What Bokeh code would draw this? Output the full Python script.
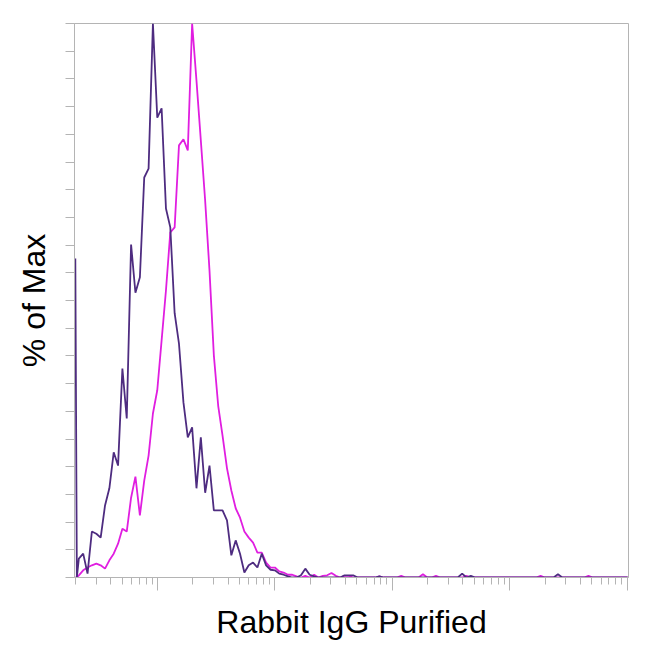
from bokeh.plotting import figure
from bokeh.models import Range1d, FixedTicker, LogTicker, CustomJSTickFormatter
from bokeh.embed import file_html
from bokeh.resources import INLINE

# bin positions (log10 of the fluorescence value)
log_x = [
    0.300, 0.313, 0.330, 0.367, 0.404, 0.441, 0.479, 0.516, 0.553, 0.590,
    0.627, 0.664, 0.701, 0.738, 0.775, 0.812, 0.850, 0.887, 0.924, 0.961,
    0.998, 1.035, 1.072, 1.109, 1.146, 1.183, 1.221, 1.258, 1.295, 1.332,
    1.369, 1.406, 1.443, 1.480, 1.517, 1.554, 1.592, 1.629, 1.666, 1.703,
    1.740, 1.777, 1.814, 1.851, 1.888, 1.925, 1.963, 2.000, 2.037, 2.074,
    2.111, 2.148, 2.185, 2.222, 2.259, 2.296, 2.334, 2.371, 2.408, 2.445,
    2.482, 2.519, 2.556, 2.593, 2.630, 2.667, 2.705, 2.742, 2.779, 2.816,
    2.853, 2.890, 2.927, 2.964, 3.001, 3.038, 3.076, 3.113, 3.150, 3.187,
    3.224, 3.261, 3.298, 3.335, 3.372, 3.409, 3.447, 3.484, 3.521, 3.558,
    3.595, 3.632, 3.669, 3.706, 3.743, 3.780, 3.818, 3.855, 3.892, 3.929,
    3.966, 4.003, 4.040, 4.077, 4.114, 4.151, 4.189, 4.226, 4.263, 4.300,
    4.337, 4.374, 4.411, 4.448, 4.485, 4.522, 4.560, 4.597, 4.634, 4.671,
    4.708, 4.745, 4.782, 4.819, 4.856, 4.893, 4.931, 4.968, 5.005,
]

# % of Max, dark purple sample
purple_pct = [
    57.6, 0.0, 3.4, 4.3, 0.7, 8.3, 7.9, 7.2, 13.0, 16.1,
    22.6, 20.2, 37.7, 28.7, 60.1, 51.4, 54.2, 72.2, 73.8, 100.0,
    83.0, 84.7, 66.6, 63.2, 47.7, 42.2, 31.6, 25.3, 27.1, 16.1,
    25.3, 15.3, 20.2, 12.1, 12.1, 12.1, 10.3, 4.0, 6.7, 4.3,
    0.9, 2.2, 2.7, 1.8, 4.3, 2.2, 1.4, 1.3, 0.7, 0.5,
    0.2, 0.0, 0.0, 0.4, 1.6, 0.5, 0.2, 0.0, 0.0, 0.0,
    0.0, 0.0, 0.0, 0.4, 0.4, 0.4, 0.0, 0.0, 0.0, 0.0,
    0.0, 0.2, 0.0, 0.0, 0.0, 0.0, 0.0, 0.0, 0.0, 0.0,
    0.0, 0.0, 0.0, 0.0, 0.0, 0.0, 0.0, 0.0, 0.0, 0.0,
    0.7, 0.0, 0.3, 0.0, 0.0, 0.0, 0.0, 0.0, 0.0, 0.0,
    0.0, 0.0, 0.0, 0.0, 0.0, 0.0, 0.0, 0.0, 0.0, 0.0,
    0.0, 0.0, 0.6, 0.0, 0.0, 0.0, 0.0, 0.0, 0.0, 0.0,
    0.0, 0.0, 0.0, 0.0, 0.0, 0.0, 0.0, 0.0, 0.0,
]

# % of Max, magenta sample
magenta_pct = [
    0.0, 0.0, 0.4, 1.3, 1.8, 2.2, 2.5, 2.2, 1.6, 3.1,
    4.3, 6.1, 8.8, 8.3, 14.4, 18.2, 11.2, 17.5, 22.0, 29.6,
    33.8, 42.8, 51.8, 62.3, 63.2, 78.0, 79.1, 77.1, 100.0, 89.7,
    78.9, 68.0, 55.4, 40.1, 31.0, 25.6, 19.7, 15.7, 12.5, 10.8,
    8.3, 7.2, 6.3, 4.5, 4.5, 2.7, 1.8, 1.8, 1.1, 0.9,
    0.5, 0.5, 0.2, 0.0, 0.3, 0.0, 0.5, 0.0, 0.3, 0.4,
    0.8, 0.3, 0.0, 0.3, 0.3, 0.0, 0.0, 0.0, 0.0, 0.0,
    0.0, 0.2, 0.0, 0.0, 0.0, 0.0, 0.3, 0.0, 0.0, 0.0,
    0.0, 0.6, 0.0, 0.0, 0.3, 0.0, 0.0, 0.0, 0.0, 0.0,
    0.0, 0.3, 0.0, 0.0, 0.0, 0.0, 0.0, 0.0, 0.0, 0.0,
    0.0, 0.0, 0.0, 0.0, 0.0, 0.0, 0.0, 0.0, 0.3, 0.0,
    0.0, 0.0, 0.0, 0.0, 0.0, 0.0, 0.0, 0.0, 0.0, 0.3,
    0.0, 0.0, 0.0, 0.0, 0.0, 0.0, 0.0, 0.0, 0.0,
]

y_ticks = [0, 5, 10, 15, 20, 25, 30, 35, 40, 45, 50, 55, 60, 65, 70, 75, 80, 85, 90, 95, 100]
x_label = "Rabbit IgG Purified"
y_label = "% of Max"
x_log_min, x_log_max = 0.293, 5.012

x_vals = [10 ** v for v in log_x]

GREY = "#b4b4b4"
FONT = "Liberation Sans"

p = figure(
    width=642, height=642,
    x_axis_type="log",
    x_range=Range1d(10 ** x_log_min, 10 ** x_log_max),
    y_range=Range1d(0, 100),
    output_backend="svg", toolbar_location=None,
    min_border_left=74, min_border_right=14,
    min_border_top=23, min_border_bottom=65,
    background_fill_color="white", border_fill_color="white",
)
p.outline_line_color = GREY
p.outline_line_width = 1
p.xgrid.visible = False
p.ygrid.visible = False

p.line(x_vals, magenta_pct, line_color="#e01ee0", line_width=1.8)
p.line(x_vals, purple_pct, line_color="#4e2c80", line_width=1.8)

xa = p.xaxis[0]
xa.ticker = LogTicker(num_minor_ticks=10, mantissas=[1], desired_num_ticks=6)
xa.formatter = CustomJSTickFormatter(code="return '';")
xa.axis_line_color = GREY
xa.major_tick_line_color = GREY
xa.minor_tick_line_color = GREY
xa.major_tick_in = 0
xa.major_tick_out = 13
xa.minor_tick_in = 0
xa.minor_tick_out = 7
xa.major_label_text_font_size = "1px"
xa.major_label_standoff = 0
xa.axis_label = x_label
xa.axis_label_text_font = FONT
xa.axis_label_text_font_size = "32px"
xa.axis_label_text_font_style = "normal"
xa.axis_label_text_color = "black"
xa.axis_label_standoff = 13

ya = p.yaxis[0]
ya.ticker = FixedTicker(ticks=y_ticks, minor_ticks=[])
ya.formatter = CustomJSTickFormatter(code="return '';")
ya.axis_line_color = GREY
ya.major_tick_line_color = GREY
ya.major_tick_in = 0
ya.major_tick_out = 9
ya.minor_tick_line_color = None
ya.major_label_text_font_size = "1px"
ya.major_label_standoff = 0
ya.axis_label = y_label
ya.axis_label_text_font = FONT
ya.axis_label_text_font_size = "32px"
ya.axis_label_text_font_style = "normal"
ya.axis_label_text_color = "black"
ya.axis_label_standoff = 14

open("out.html", "w").write(file_html(p, INLINE))
